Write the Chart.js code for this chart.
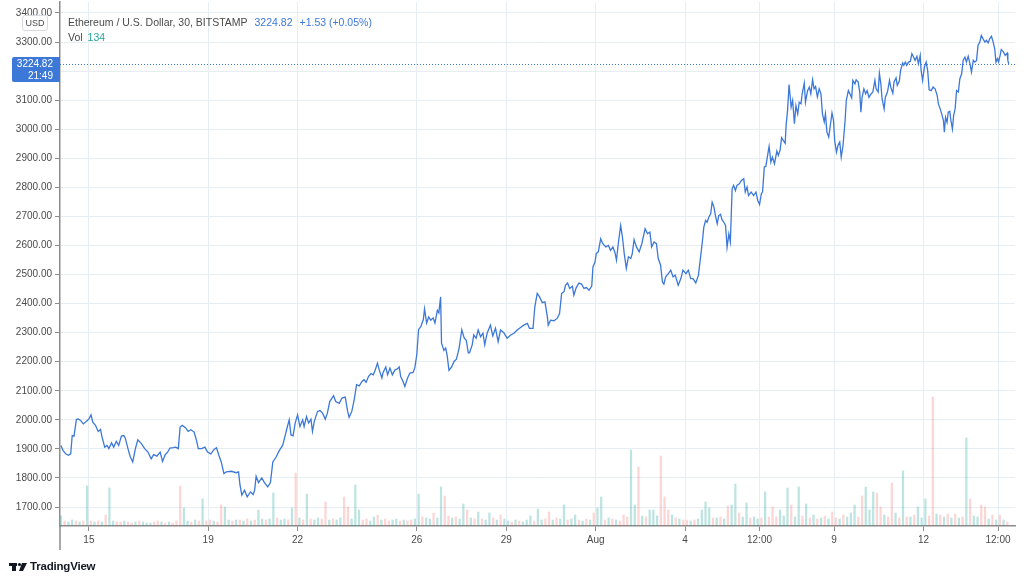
<!DOCTYPE html>
<html>
<head>
<meta charset="utf-8">
<script src="https://cdn.jsdelivr.net/npm/chart.js@4.4.1/dist/chart.umd.min.js"></script>
<style>
  html, body { margin: 0; padding: 0; background: #ffffff; }
  #wrap { position: relative; width: 1024px; height: 582px; overflow: hidden; font-family: "Liberation Sans", Arial, sans-serif; }
  #c { position: absolute; left: 0; top: 0; }
  .ov { position: absolute; white-space: nowrap; }
  #hdr { left: 68px; top: 16px; font-size: 10.5px; color: #4a4a4a; }
  #hdr .b { color: #3c78d8; margin-left: 7px; }
  #vol { left: 68px; top: 31px; font-size: 10.5px; color: #4a4a4a; }
  #vol .g { color: #26a69a; margin-left: 5px; }
  #usd { left: 22px; top: 15px; width: 24px; height: 14px; border: 1px solid #d6d9de; border-radius: 3px; background: #fff; font-size: 9px; color: #4a4a4a; text-align: center; line-height: 14px; }
  #plab { left: 12px; top: 57px; width: 48px; height: 25px; background: #3c78d8; border-radius: 2px 0 0 2px; color: #fff; font-size: 10px; text-align: right; line-height: 12px; }
  #plab div { padding-right: 7px; }
  #logo { left: 30px; top: 560px; font-size: 11.5px; font-weight: bold; color: #131722; letter-spacing: -0.2px; }
</style>
</head>
<body>
<div id="wrap">
  <canvas id="c" width="1024" height="582"></canvas>
  <div class="ov" id="hdr">Ethereum / U.S. Dollar, 30, BITSTAMP<span class="b">3224.82</span><span class="b">+1.53 (+0.05%)</span></div>
  <div class="ov" id="vol">Vol<span class="g">134</span></div>
  <div class="ov" id="usd">USD</div>
  <div class="ov" id="plab"><div style="margin-top:1px">3224.82</div><div>21:49</div></div>
  <div class="ov" id="logo">TradingView</div>
</div>
<script>
// ---- data (days counted from Jul 14 00:00) ----
const priceDay = [
 0.06,0.13,0.22,0.31,0.39,0.44,0.5,0.58,0.64,0.72,0.81,0.91,1.0,1.07,1.13,1.22,1.31,1.39,1.44,1.53,1.61,1.67,1.76,1.83,1.92,2.0,
 2.09,2.17,2.22,2.31,2.39,2.47,2.56,2.64,2.76,2.87,2.98,3.09,3.17,3.28,3.39,3.47,3.56,3.64,3.72,3.83,3.91,4.0,4.06,4.13,4.24,4.33,
 4.42,4.53,4.61,4.67,4.78,4.89,4.98,5.09,5.2,5.28,5.36,5.44,5.53,5.61,5.78,5.94,6.02,6.07,6.13,6.22,6.31,6.42,6.51,6.56,6.61,6.69,
 6.8,6.89,7.0,7.09,7.17,7.28,7.39,7.5,
 7.59,7.66,7.72,7.78,7.85,7.92,8.0,8.08,8.17,8.22,8.3,8.37,8.45,8.5,8.56,8.67,8.75,8.84,8.93,9.0,9.08,9.21,9.28,9.4,9.49,9.6,9.68,
 9.73,9.82,9.9,9.98,10.07,10.16,10.23,10.3,10.38,10.46,10.54,10.6,10.68,10.74,10.83,10.87,10.96,11.02,11.1,11.18,11.27,11.35,11.41,
 11.46,11.54,11.6,11.69,11.77,11.88,11.94,12.0,12.06,12.14,12.22,12.26,12.33,12.4,12.47,12.55,12.61,12.69,12.74,12.8,12.83,12.91,
 12.97,13.02,13.08,13.17,13.25,13.33,13.42,13.51,13.59,13.66,13.73,
 13.77,13.86,13.91,13.99,14.06,14.14,14.22,14.28,14.36,14.47,14.55,14.64,14.73,14.81,14.92,15.03,15.15,15.26,15.37,15.48,15.59,15.71,
 15.78,15.9,15.96,16.04,16.12,16.21,16.3,16.38,16.41,16.49,16.6,16.71,16.79,16.86,16.94,16.99,17.06,17.13,17.22,17.27,17.35,17.44,
 17.53,17.61,17.69,17.78,17.87,17.91,17.98,18.02,18.09,18.17,18.24,18.34,18.43,18.5,18.58,18.65,18.7,18.76,18.84,18.9,18.96,19.03,
 19.1,19.18,19.23,19.29,19.37,19.46,19.55,19.66,19.74,19.82,19.88,19.96,20.04,20.1,20.18,20.24,20.29,20.35,20.44,20.52,20.6,20.67,
 20.77,20.86,20.93,21.03,21.11,21.19,21.27,21.36,21.45,
 21.52,21.58,21.63,21.69,21.74,21.8,21.86,21.91,21.97,22.02,22.08,22.13,22.19,22.24,22.3,22.36,22.41,22.47,22.52,22.58,22.63,22.69,
 22.74,22.82,22.89,22.97,23.02,23.08,23.13,23.22,23.3,23.38,23.44,23.5,23.56,23.6,23.66,23.71,23.77,23.82,23.88,23.93,24.0,24.08,
 24.13,24.19,24.24,24.3,24.36,24.39,24.44,24.49,24.56,24.61,24.67,24.72,24.78,24.83,24.89,24.93,25.0,25.04,25.11,25.17,25.22,25.28,
 25.33,25.38,25.44,25.5,25.56,25.61,25.67,25.71,25.76,25.82,25.89,25.93,25.98,26.02,26.08,26.13,
 26.19,26.24,26.3,26.37,26.41,26.48,26.53,26.59,26.63,26.7,26.74,26.81,26.86,26.9,26.94,27.0,27.06,27.11,27.17,27.23,27.3,27.37,
 27.41,27.48,27.52,27.57,27.61,27.68,27.72,27.79,27.86,27.9,27.97,28.01,28.08,28.12,28.19,28.23,28.3,28.34,28.39,28.44,28.5,28.56,
 28.61,28.67,28.72,28.78,28.83,28.89,28.92,28.97,29.03,29.09,29.14,29.19,29.26,29.32,29.39,29.46,29.5,29.56,29.61,29.67,29.7,29.74,
 29.79,29.83,29.88,29.92,29.97,30.01,30.06,30.11,30.17,30.22,30.28,30.33,30.39,30.44,30.5,30.56,30.61,30.67,30.72,30.78,30.83,30.89,
 30.94,31.0,31.06,31.11,31.17,31.22,31.28,31.33,31.39,31.43,31.48,31.52,31.57,31.61,31.68,31.74,31.81,31.83,31.86
];
const priceVal = [
 1912,1895,1883,1878,1883,1946,1944,2001,2003,1998,1986,1994,2003,2017,1992,1981,1960,1967,1941,1906,1912,1901,1921,1906,1926,1912,
 1944,1946,1937,1901,1872,1855,1901,1931,1918,1901,1889,1866,1880,1875,1889,1857,1880,1889,1903,1904,1906,1901,1975,1981,1973,1960,
 1966,1958,1929,1901,1901,1906,1889,1883,1898,1904,1878,1855,1815,1821,1823,1818,1821,1775,1741,1758,1735,1752,1743,1758,1806,1784,
 1800,1784,1769,1784,1855,1872,1895,1912,
 1948,1977,2000,1948,1945,1989,2017,1977,2000,1977,2011,1989,2002,1960,1994,2029,2032,2023,2002,2023,2063,2083,2063,2057,2075,2078,2029,
 2009,2029,2069,2121,2117,2132,2138,2129,2149,2159,2155,2170,2195,2172,2144,2163,2182,2155,2178,2155,2172,2175,2182,
 2149,2132,2115,2144,2161,2163,2182,2224,2310,2322,2345,2382,2333,2354,2343,2351,2333,2377,2368,2423,2264,2239,
 2247,2221,2170,2182,2201,2209,2247,2310,2282,2274,2230,
 2231,2258,2292,2281,2309,2286,2298,2258,2298,2326,2289,2315,2269,2309,2300,2281,2292,2298,2309,2318,2326,2332,
 2315,2315,2389,2435,2423,2403,2406,2355,2326,2343,2341,2349,2366,2435,2441,2463,2471,2452,2460,2429,2455,2471,
 2467,2452,2455,2446,2460,2526,2543,2572,2578,2623,2606,2595,2600,2583,2595,2575,2549,2606,2669,2629,2572,2521,
 2561,2555,2572,2620,2595,2578,2606,2658,2641,2646,2595,2612,2606,2555,2532,2475,2467,2492,2503,2515,2492,2498,
 2463,2486,2515,2503,2515,2486,2486,2471,2498,
 2560,2612,2663,2686,2680,2698,2709,2749,2732,2703,2675,2703,2707,2689,2680,2669,2594,2640,2612,2795,2807,2789,
 2807,2812,2824,2830,2784,2801,2772,2784,2772,2784,2755,2741,2778,2784,2870,2872,2910,2941,2887,2904,2881,2925,
 2910,2929,2971,2961,2952,3013,3065,3154,3076,3099,3019,3081,3053,3093,3088,3122,3159,3093,3133,3145,3122,3170,
 3139,3147,3111,3139,3122,3053,3025,3053,2990,2973,3025,3056,3031,2961,2921,2944,
 2956,2904,2944,3030,3099,3133,3122,3108,3168,3156,3170,3162,3128,3059,3110,3139,3122,3133,3110,3120,3128,3168,
 3139,3128,3193,3156,3105,3070,3110,3128,3168,3145,3124,3162,3177,3151,3166,3202,3228,3220,3231,3220,3231,3234,
 3260,3248,3237,3251,3225,3254,3202,3168,3214,3231,3202,3136,3133,3145,3139,3116,3087,3070,3053,3030,2990,3041,
 3024,3059,3062,3030,3001,3047,3070,3133,3128,3174,3191,3237,3248,3231,3251,3225,3197,3237,3231,3237,3289,3300,
 3323,3311,3300,3306,3297,3311,3320,3303,3277,3231,3243,3231,3254,3274,3266,3254,3262,3237,3224.82
];
const lastPrice = 3224.82;

// volume per 3-hour bucket (tallest 30-min bar in bucket), ETH
const volume = [
 1000,500,400,600,500,400,500,4000,
 500,400,500,400,1100,3800,500,400,
 400,500,400,300,400,500,400,300,
 300,400,500,400,300,400,300,500,
 4000,1800,500,400,600,500,2700,500,
 600,500,400,2100,1900,600,500,600,
 600,500,700,500,600,1600,700,600,
 700,3300,800,600,700,600,1800,5300,
 800,600,3200,700,600,800,700,2400,
 600,700,600,800,2900,1900,700,4100,
 1600,600,700,500,900,1100,600,700,
 500,600,700,500,600,500,600,700,
 3200,900,800,700,1300,800,3900,3000,
 1000,800,900,700,2200,1600,800,700,
 1400,700,600,1300,800,600,1100,700,
 500,400,600,500,400,600,1000,500,
 1700,600,700,1400,600,800,700,2100,
 600,700,1100,600,500,700,600,1300,
 1800,2900,600,800,700,600,500,1100,
 900,7600,2100,5900,1000,900,1600,1600,
 1000,7000,2900,1600,1100,800,700,600,
 600,500,600,700,1600,2400,1800,800,
 800,900,700,2000,2100,4200,1300,900,
 2300,800,900,700,800,3400,900,1900,
 900,1600,1000,3800,2100,900,3900,1000,
 2200,800,1100,700,800,1000,700,1400,
 800,700,1100,900,1300,2100,900,3000,
 3900,1600,3400,3300,1900,1100,900,4300,
 1300,800,5500,900,900,1100,1900,800,
 2700,1000,12900,1200,1100,900,1200,800,
 1200,800,900,8800,2700,1000,900,2100,
 1900,700,1100,600,1100,600,400
];
const volUp = [
 1,0,1,1,0,1,0,1, 0,1,0,1,0,1,1,0, 0,1,0,0,1,0,1,1, 1,0,0,1,0,1,0,0,
 0,1,1,0,1,0,1,0, 0,1,0,0,1,1,0,1, 0,1,0,1,0,1,1,0, 1,1,0,1,1,0,1,0,
 1,0,1,0,1,1,0,0, 1,0,1,1,0,0,1,1, 1,0,0,1,1,0,1,0, 0,1,1,0,1,0,0,1,
 1,0,1,1,0,1,1,0, 0,1,0,1,1,0,1,0, 1,0,1,1,0,1,0,1, 1,0,1,0,1,1,1,0,
 1,1,0,0,1,0,1,1, 0,1,1,0,1,0,1,0, 1,1,0,1,0,1,0,0, 0,1,1,0,1,0,1,1,
 1,0,0,0,1,0,1,0, 0,1,0,1,1,1,1,0, 1,0,1,0,1,1,0,1, 1,0,1,1,0,1,0,0,
 0,1,1,1,0,1,1,0, 1,0,1,0,1,0,1,0, 0,1,0,1,1,1,0,0, 1,1,1,0,0,1,0,0,
 1,0,1,0,1,0,1,1, 1,0,0,1,0,1,0,1, 0,1,0,1,0,1,1,0, 0,1,0,1,0,1,0
];
const bucketDays = 0.125;

// axis ticks
const xTickDays   = [1, 5, 8, 12, 15, 18, 21, 23.5, 26, 29, 31.5];
const xTickLabels = ['15', '19', '22', '26', '29', 'Aug', '4', '12:00', '9', '12', '12:00'];
const yTickValues = [1700,1800,1900,2000,2100,2200,2300,2400,2500,2600,2700,2800,2900,3000,3100,3200,3300,3400];

// ---- style ----
const BLUE = '#3c78d8';
const GRID = '#e6eef4';
const AXIS = '#8c8c8c';
const TXT  = '#4a4a4a';
const UPC  = 'rgba(38,166,154,0.30)';
const DNC  = 'rgba(239,83,80,0.24)';
const FONT = { family: '"Liberation Sans", Arial, sans-serif', size: 10 };

const extras = {
  id: 'extras',
  afterDatasetsDraw(chart) {
    const { ctx, chartArea: a, scales } = chart;
    const y = scales.y.getPixelForValue(lastPrice);
    ctx.save();
    ctx.strokeStyle = BLUE;
    ctx.lineWidth = 1;
    ctx.setLineDash([1, 2]);
    ctx.beginPath();
    ctx.moveTo(a.left, Math.round(y) + 0.5);
    ctx.lineTo(a.right, Math.round(y) + 0.5);
    ctx.stroke();
    ctx.restore();
  },
  afterDraw(chart) {
    const { ctx, chartArea: a } = chart;
    ctx.save();
    ctx.strokeStyle = AXIS;
    ctx.lineWidth = 1.5;
    ctx.beginPath();
    ctx.moveTo(a.left, a.bottom);
    ctx.lineTo(a.left, a.bottom + 24);
    ctx.stroke();
    ctx.fillStyle = '#131722';
    ctx.fillRect(9, 563, 8, 3);
    ctx.fillRect(12, 563, 4, 8);
    ctx.beginPath(); ctx.arc(19.5, 564.5, 1.6, 0, Math.PI * 2); ctx.fill();
    ctx.beginPath();
    ctx.moveTo(22, 563); ctx.lineTo(27, 563); ctx.lineTo(23, 571); ctx.lineTo(19, 571);
    ctx.closePath(); ctx.fill();
    ctx.restore();
  }
};

new Chart(document.getElementById('c'), {
  type: 'line',
  data: {
    datasets: [
      {
        type: 'line',
        data: priceDay.map((d, i) => ({ x: d, y: priceVal[i] })),
        borderColor: BLUE,
        borderWidth: 1.3,
        pointRadius: 0,
        tension: 0,
        yAxisID: 'y',
        order: 1
      },
      {
        type: 'bar',
        data: volume.map((v, i) => ({ x: i * bucketDays + bucketDays / 2, y: v })),
        backgroundColor: volUp.map(u => (u ? UPC : DNC)),
        barThickness: 1.6,
        yAxisID: 'v',
        order: 2
      }
    ]
  },
  options: {
    animation: false,
    responsive: false,
    maintainAspectRatio: false,
    events: [],
    layout: { padding: { left: 0, right: 9, top: 2, bottom: 0 } },
    plugins: { legend: { display: false }, tooltip: { enabled: false } },
    scales: {
      x: {
        type: 'linear',
        min: 0.03,
        max: 32.07,
        offset: false,
        grid: { color: GRID, tickColor: AXIS, tickLength: 5, offset: false },
        border: { color: AXIS, width: 1.5 },
        ticks: {
          autoSkip: false, maxRotation: 0, color: TXT, font: FONT, padding: 3,
          callback: (v, i) => xTickLabels[i]
        },
        afterBuildTicks: s => { s.ticks = xTickDays.map(v => ({ value: v })); },
        afterFit: s => { s.height = 56; s.paddingLeft = 0; s.paddingRight = 0; }
      },
      y: {
        type: 'linear',
        position: 'left',
        min: 1634.65,
        max: 3437.85,
        grid: { color: GRID, tickColor: AXIS, tickLength: 5 },
        border: { color: AXIS, width: 1.5 },
        ticks: { color: TXT, font: FONT, padding: 3, callback: v => Number(v).toFixed(2) },
        afterBuildTicks: s => { s.ticks = yTickValues.map(v => ({ value: v })); },
        afterFit: s => { s.width = 60; s.paddingTop = 0; s.paddingBottom = 0; }
      },
      v: { type: 'linear', display: false, min: 0, max: 52400 }
    }
  },
  plugins: [extras]
});
</script>
</body>
</html>
